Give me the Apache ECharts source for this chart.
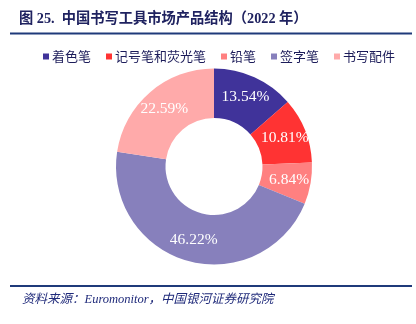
<!DOCTYPE html>
<html>
<head>
<meta charset="utf-8">
<script src="https://cdn.jsdelivr.net/npm/echarts@6/dist/echarts.min.js"></script>
<style>
  html, body { margin: 0; padding: 0; background: #fff; }
  #chart { width: 416px; height: 324px; }
</style>
</head>
<body>
<div id="chart"></div>
<script>
// Product mix of China's writing-instrument market, 2022 (%)
const categories = ['着色笔', '记号笔和荧光笔', '铅笔', '签字笔', '书写配件'];
const shares = [13.54, 10.81, 6.84, 46.22, 22.59];
const colors = ['#40339A', '#FF3333', '#FF8080', '#8780BC', '#FFAAAA'];

const titleText = '图 25.  中国书写工具市场产品结构（2022 年）';
const sourceText = '资料来源：Euromonitor，中国银河证券研究院';

const chart = echarts.init(document.getElementById('chart'), null, { renderer: 'canvas' });

chart.setOption({
  backgroundColor: '#ffffff',
  animation: false,
  color: colors,
  legend: {
    top: 45,
    left: 38,
    itemWidth: 6,
    itemHeight: 6,
    itemGap: 15,
    icon: 'rect',
    textStyle: {
      fontFamily: '"Noto Sans CJK SC", sans-serif',
      fontSize: 13,
      color: '#1C1C5A',
      padding: [0, 0, 0, -2]
    },
    data: categories
  },
  graphic: [
    {
      type: 'text',
      left: 19,
      top: 12,
      style: {
        text: titleText,
        font: 'bold 14.25px "Liberation Serif", "Noto Sans CJK SC", serif',
        fill: '#1F2260'
      }
    },
    {
      type: 'rect',
      shape: { x: 10, y: 32.5, width: 402, height: 2 },
      style: { fill: '#1F3A7A' }
    },
    {
      type: 'rect',
      shape: { x: 10, y: 285, width: 402, height: 2 },
      style: { fill: '#1F3A7A' }
    },
    {
      type: 'text',
      left: 22,
      top: 293.5,
      style: {
        text: sourceText,
        font: 'italic 12.5px "Liberation Serif", "Noto Sans CJK SC", serif',
        fill: '#1F2A7A'
      }
    }
  ],
  series: [
    {
      type: 'pie',
      center: [214, 166.5],
      radius: [48.5, 98],
      startAngle: 90,
      clockwise: true,
      avoidLabelOverlap: false,
      label: {
        show: true,
        position: 'inside',
        formatter: (p) => p.value.toFixed(2) + '%',
        color: '#ffffff',
        fontFamily: '"Liberation Serif", serif',
        fontSize: 15.5
      },
      labelLine: { show: false },
      itemStyle: { borderWidth: 0 },
      emphasis: { disabled: true },
      data: categories.map((name, i) => ({ name, value: shares[i] }))
    }
  ]
});
</script>
</body>
</html>
